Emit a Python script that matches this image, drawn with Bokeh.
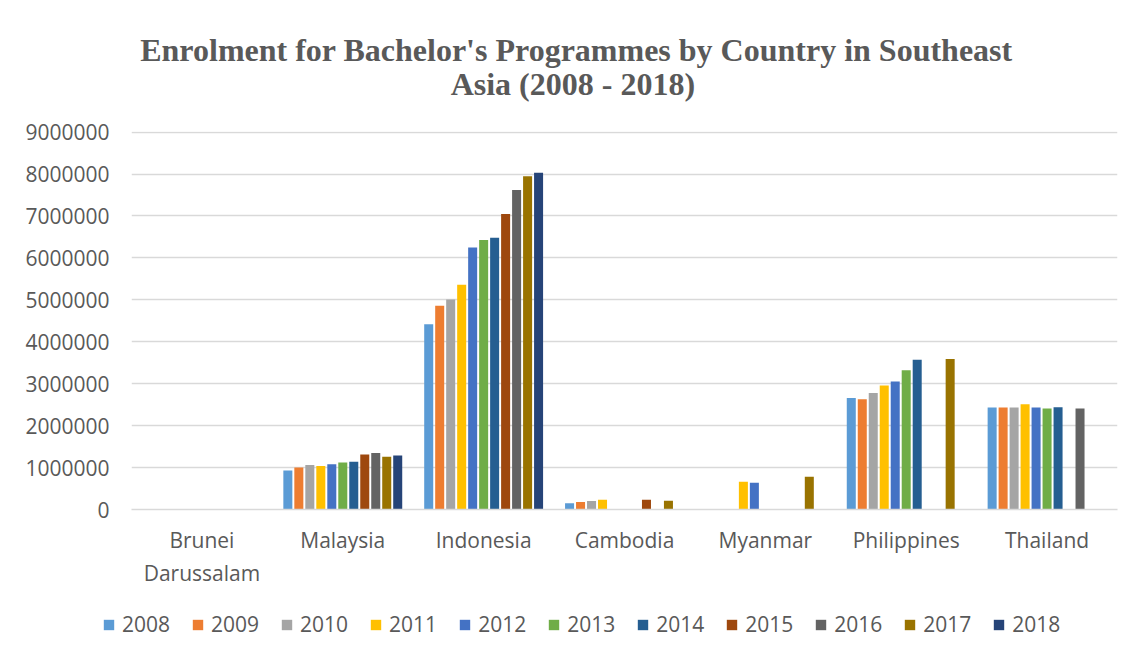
import math
from bokeh.plotting import figure
from bokeh.models import (ColumnDataSource, Legend, LegendItem, Title, FixedTicker,
                          NumeralTickFormatter, FactorRange, Range1d)
from bokeh.transform import dodge
from bokeh.embed import file_html
from bokeh.resources import INLINE

nan = float("nan")

countries = ["Brunei\nDarussalam", "Malaysia", "Indonesia", "Cambodia", "Myanmar", "Philippines", "Thailand"]
years = [2008, 2009, 2010, 2011, 2012, 2013, 2014, 2015, 2016, 2017, 2018]
year_labels = ["2008", "2009", "2010", "2011", "2012", "2013", "2014", "2015", "2016", "2017", "2018"]

# enrolment per year, in the order of `countries`
y2008 = [nan, 930000, 4420000, 150000, nan, 2660000, 2430000]
y2009 = [nan, 1000000, 4860000, 180000, nan, 2630000, 2430000]
y2010 = [nan, 1060000, 5010000, 200000, nan, 2780000, 2430000]
y2011 = [nan, 1040000, 5360000, 230000, 660000, 2960000, 2510000]
y2012 = [nan, 1080000, 6250000, nan, 640000, 3050000, 2430000]
y2013 = [nan, 1120000, 6430000, nan, nan, 3320000, 2410000]
y2014 = [nan, 1140000, 6480000, nan, nan, 3570000, 2440000]
y2015 = [nan, 1310000, 7050000, 230000, nan, nan, nan]
y2016 = [nan, 1350000, 7620000, nan, nan, nan, 2410000]
y2017 = [nan, 1260000, 7950000, 210000, 780000, 3590000, nan]
y2018 = [nan, 1290000, 8030000, nan, nan, nan, nan]

series = [y2008, y2009, y2010, y2011, y2012, y2013, y2014, y2015, y2016, y2017, y2018]
colors = ["#5B9BD5", "#ED7D31", "#A5A5A5", "#FFC000", "#4472C4", "#70AD47",
          "#255E91", "#9E480E", "#636363", "#997300", "#264478"]

y_ticks = [0, 1000000, 2000000, 3000000, 4000000, 5000000, 6000000, 7000000, 8000000, 9000000]

title_line1 = "Enrolment for Bachelor's Programmes by Country in Southeast"
title_line2 = "Asia (2008 - 2018)"

data = {"country": countries}
for yr, vals in zip(years, series):
    data["y%d" % yr] = vals
src = ColumnDataSource(data)

FONT = "Open Sans"
TXT = "#595959"
GRID = "#d9d9d9"
EM, EN, THIN = "\u2003", "\u2002", "\u2009"

W = 1135
H1 = 590
H2 = 66

p = figure(width=W, height=H1, x_range=FactorRange(*countries), y_range=Range1d(0, 9015000),
           output_backend="svg", toolbar_location=None, title=None,
           min_border_left=131, min_border_right=W - 1117, min_border_top=131,
           min_border_bottom=H1 - 510)
p.outline_line_color = None

slot = 0.078
bw = 0.064
for i, yr in enumerate(years):
    p.vbar(x=dodge("country", (i - 5) * slot, range=p.x_range), top="y%d" % yr, width=bw,
           source=src, fill_color=colors[i], line_color=None)

# axes
p.yaxis.ticker = FixedTicker(ticks=y_ticks)
p.yaxis.formatter = NumeralTickFormatter(format="0")
p.yaxis.axis_line_color = None
p.yaxis.major_tick_line_color = None
p.yaxis.minor_tick_line_color = None
p.yaxis.major_tick_out = 0
p.yaxis.major_tick_in = 0
p.yaxis.major_label_standoff = 22
p.yaxis.major_label_text_font = FONT
p.yaxis.major_label_text_font_size = "21px"
p.yaxis.major_label_text_color = TXT

xa = p.xaxis[0]
xa.axis_line_color = GRID
xa.axis_line_width = 1.5
xa.major_tick_line_color = None
xa.minor_tick_line_color = None
xa.major_tick_out = 0
xa.major_tick_in = 0
xa.major_label_standoff = 16
xa.major_label_text_font = FONT
xa.major_label_text_font_size = "21px"
xa.major_label_text_color = TXT

p.xgrid.grid_line_color = None
p.ygrid.grid_line_color = GRID
p.ygrid.grid_line_width = 1.5

# two-line title; spaces keep the block where the reference has it
t = Title(text=title_line1 + EM * 3 + "\n" + EM * 9 + EN + THIN + title_line2, align="center",
          text_font="Liberation Serif", text_font_style="bold", text_font_size="32px",
          text_color=TXT, standoff=59, text_line_height=0.95)
p.add_layout(t, "above")

# legend strip under the chart (separate root so its frame is not aligned to the chart's)
p2 = figure(width=W, height=H2, x_range=Range1d(0, 1), y_range=Range1d(0, 1),
            output_backend="svg", toolbar_location=None, x_axis_type=None, y_axis_type=None,
            min_border=0)
p2.outline_line_color = None
p2.xgrid.visible = False
p2.ygrid.visible = False
items = []
offscreen = ColumnDataSource(dict(x=[10.0], top=[1.0]))
for i, yr in enumerate(years):
    r = p2.vbar(x="x", top="top", width=0.1, source=offscreen, fill_color=colors[i], line_color=None)
    items.append(LegendItem(label=year_labels[i], renderers=[r]))
legend = Legend(items=items, orientation="horizontal", location=(102, 18),
                glyph_width=13, glyph_height=13, label_standoff=7, spacing=21,
                padding=0, margin=0, border_line_color=None, background_fill_color=None,
                label_text_font=FONT, label_text_font_size="21px", label_text_color=TXT)
p2.add_layout(legend, "center")

open("out.html", "w").write(file_html([p, p2], INLINE))
